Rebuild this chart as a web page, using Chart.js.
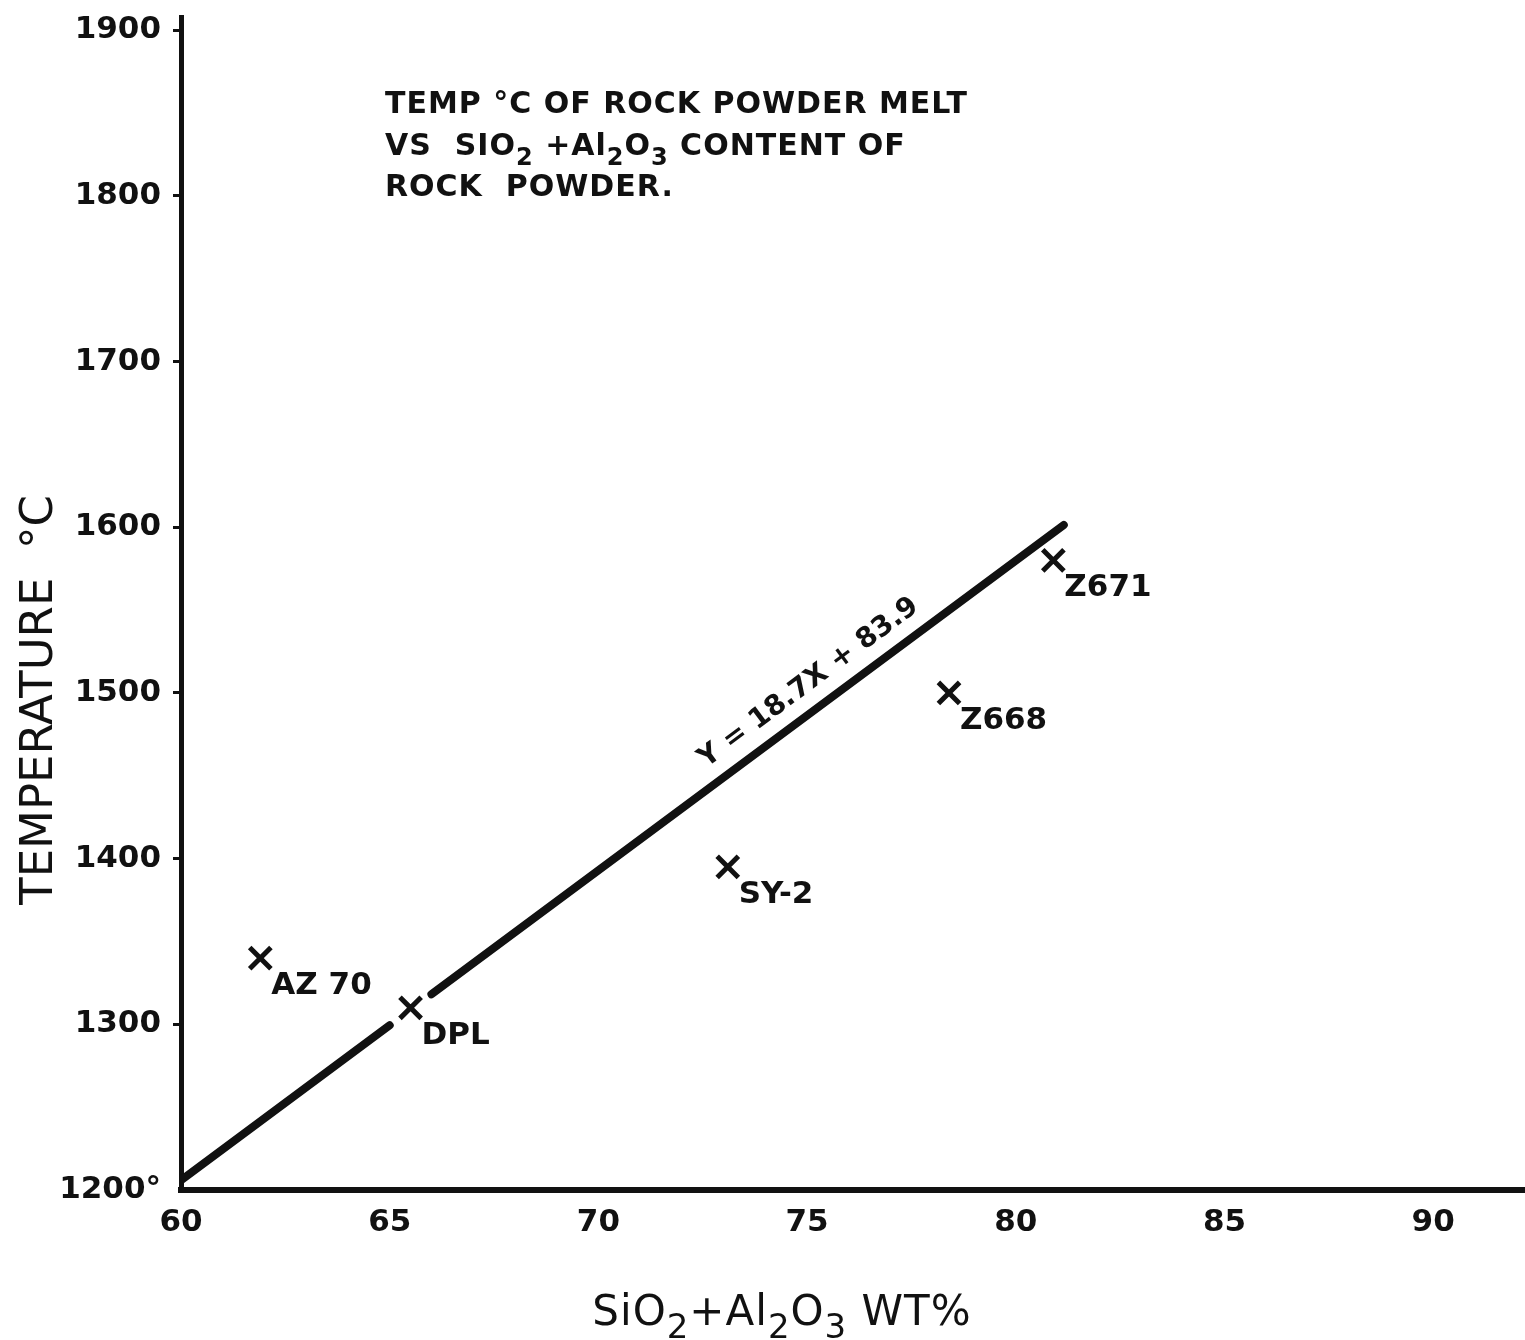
<!DOCTYPE html>
<html>
<head>
<meta charset="utf-8">
<script src="https://cdn.jsdelivr.net/npm/chart.js@4.4.1/dist/chart.umd.min.js"></script>
<style>
	html, body { margin: 0; background: #fff; overflow: hidden; }
	#graph { display: block; }
</style>
</head>
<body>
<canvas id="graph" width="1525" height="1340"></canvas>
<script>

// rock powder samples: SiO2 + Al2O3 wt% against melt temperature
var samples = ["AZ 70", "DPL", "SY-2", "Z668", "Z671"];
var sio2al2o3 = [61.9, 65.5, 73.1, 78.4, 80.9];
var meltTemp = [1340, 1310, 1395, 1500, 1580];

// fitted line Y = 18.7X + 83.9, inked in two pieces either side of DPL
var slope = 18.7;
var intercept = 83.9;
var fitPieces = [[60, 65.0], [66.0, 81.15]];

var xTicks = [60, 65, 70, 75, 80, 85, 90];
var yTicks = [1200, 1300, 1400, 1500, 1600, 1700, 1800, 1900];

var ink = "#111";

function fitPoints(piece) {
	return piece.map(function (x) {
		return { x: x, y: slope * x + intercept };
	});
}

// text with subscripts: parts are [string, isSubscript]
function richText(ctx, parts, x, y, size, weight, align, spacing) {
	var subSize = Math.round(size * 0.8);
	ctx.letterSpacing = (spacing || 0) + "px";
	var w = 0;
	parts.forEach(function (p) {
		ctx.font = weight + " " + (p[1] ? subSize : size) + "px 'DejaVu Sans'";
		w += ctx.measureText(p[0]).width;
	});
	var cx = align === "center" ? x - w / 2 : x;
	parts.forEach(function (p) {
		ctx.font = weight + " " + (p[1] ? subSize : size) + "px 'DejaVu Sans'";
		ctx.fillText(p[0], cx, y + (p[1] ? size * 0.32 : 0));
		cx += ctx.measureText(p[0]).width;
	});
	ctx.letterSpacing = "0px";
}

var textPlugin = {
	id: "sketchText",
	afterDatasetsDraw: function (chart) {
		var ctx = chart.ctx;
		var xs = chart.scales.x, ys = chart.scales.y;
		ctx.save();
		ctx.fillStyle = ink;
		ctx.textAlign = "left";
		ctx.textBaseline = "alphabetic";

		// sample names, set low and right of each cross
		ctx.font = "bold 31px 'DejaVu Sans'";
		samples.forEach(function (name, i) {
			var px = xs.getPixelForValue(sio2al2o3[i]);
			var py = ys.getPixelForValue(meltTemp[i]);
			ctx.fillText(name, px + 11, py + 36);
		});

		// equation written along the fitted line
		var p0 = fitPieces[1][0], p1 = fitPieces[1][1];
		var ax = xs.getPixelForValue(p0), ay = ys.getPixelForValue(slope * p0 + intercept);
		var bx = xs.getPixelForValue(p1), by = ys.getPixelForValue(slope * p1 + intercept);
		var ang = Math.atan2(by - ay, bx - ax);
		var mx = 75.4;
		var cx = xs.getPixelForValue(mx), cy = ys.getPixelForValue(slope * mx + intercept);
		ctx.save();
		ctx.translate(cx, cy);
		ctx.rotate(ang);
		ctx.textAlign = "center";
		ctx.font = "bold 28px 'DejaVu Sans'";
		ctx.fillText("Y = " + slope + "X + " + intercept, 0, -18);
		ctx.restore();

		// heading block
		ctx.textAlign = "left";
		richText(ctx, [["TEMP °C OF ROCK POWDER MELT", 0]], 385, 113, 30, "bold", "left", 1);
		richText(ctx, [["VS  SIO", 0], ["2", 1], [" +Al", 0], ["2", 1], ["O", 0], ["3", 1], [" CONTENT OF", 0]], 385, 155, 30, "bold", "left", 1);
		richText(ctx, [["ROCK  POWDER.", 0]], 385, 196, 30, "bold", "left", 1);

		// axis titles
		richText(ctx, [["SiO", 0], ["2", 1], ["+Al", 0], ["2", 1], ["O", 0], ["3", 1], [" WT%", 0]], 782, 1325, 42, "normal", "center", 1);
		ctx.save();
		ctx.translate(52, 700);
		ctx.rotate(-Math.PI / 2);
		richText(ctx, [["TEMPERATURE  °C", 0]], 0, 0, 45, "normal", "center");
		ctx.restore();

		ctx.restore();
	}
};

var ctx = document.getElementById("graph");
var graph = new Chart(ctx, {
	type: "scatter",
	data: {
		datasets: [{
			data: fitPoints(fitPieces[0]),
			showLine: true,
			borderColor: ink,
			borderWidth: 8,
			borderCapStyle: "round",
			pointRadius: 0,
		}, {
			data: fitPoints(fitPieces[1]),
			showLine: true,
			borderColor: ink,
			borderWidth: 8,
			borderCapStyle: "round",
			pointRadius: 0,
		}, {
			data: sio2al2o3.map(function (x, i) { return { x: x, y: meltTemp[i] }; }),
			pointStyle: "crossRot",
			pointRadius: 15,
			pointBorderWidth: 5,
			borderColor: ink,
			pointBorderColor: ink,
		}]
	},
	options: {
		responsive: false,
		animation: false,
		layout: { autoPadding: false, padding: { top: 17, right: 0, left: 0, bottom: 0 } },
		plugins: {
			legend: { display: false },
			tooltip: { enabled: false },
		},
		scales: {
			x: {
				type: "linear",
				min: 60,
				max: 92.2,
				afterBuildTicks: function (scale) {
					scale.ticks = xTicks.map(function (v) { return { value: v }; });
				},
				afterFit: function (scale) {
					scale.height = 150;
					scale.paddingLeft = 0;
					scale.paddingRight = 0;
				},
				grid: { display: false, drawTicks: false },
				border: { display: true, color: ink, width: 6 },
				ticks: {
					color: ink,
					padding: 14,
					maxRotation: 0,
					font: { family: "DejaVu Sans", size: 31, weight: "bold" },
				},
			},
			y: {
				type: "linear",
				min: 1200,
				max: 1908,
				afterBuildTicks: function (scale) {
					scale.ticks = yTicks.map(function (v) { return { value: v }; });
				},
				afterFit: function (scale) {
					scale.width = 181;
					scale.paddingTop = 0;
					scale.paddingBottom = 0;
				},
				grid: {
					display: true,
					drawOnChartArea: false,
					drawTicks: true,
					tickLength: 8,
					lineWidth: 3,
					color: function (c) { return c.tick && c.tick.value === 1200 ? "rgba(0,0,0,0)" : ink; },
				},
				border: { display: true, color: ink, width: 5 },
				ticks: {
					color: ink,
					padding: 12,
					font: { family: "DejaVu Sans", size: 31, weight: "bold", lineHeight: 1.0 },
					callback: function (v) { return v === 1200 ? "1200°" : String(v); },
				},
			}
		}
	},
	plugins: [textPlugin]
});
</script>
</body>
</html>
